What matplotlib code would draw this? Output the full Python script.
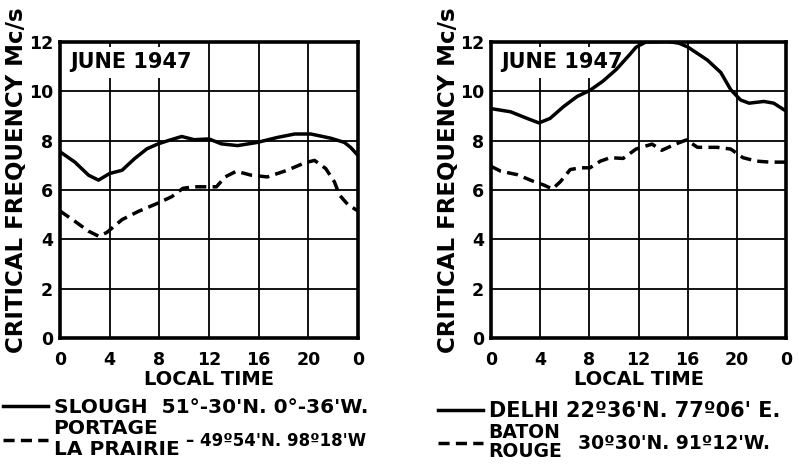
import matplotlib
matplotlib.use("Agg")
import matplotlib.pyplot as plt

# critical frequency readings, June 1947 (local time in hours, Mc/s)
slough_t = [0, 1.2, 2.3, 3.1, 4.0, 5.0, 6.0, 7.0, 7.9, 8.7, 9.8, 10.8, 12.0, 13.0,
            14.3, 15.9, 17.5, 18.9, 20.2, 21.8, 22.9, 23.4, 24]
slough_f = [7.55, 7.13, 6.6, 6.4, 6.67, 6.8, 7.27, 7.67, 7.87, 8.0, 8.17, 8.04, 8.07, 7.87,
            7.8, 7.93, 8.13, 8.27, 8.27, 8.1, 7.93, 7.73, 7.4]

portage_t = [0, 1.2, 2.3, 3.1, 3.75, 5.0, 6.3, 7.9, 9.0, 9.9, 10.8, 12.0, 12.6, 13.3,
             14.2, 15.4, 16.7, 18.3, 19.7, 20.5, 21.4, 22.1, 22.5, 23.2, 24]
portage_f = [5.15, 4.73, 4.33, 4.13, 4.27, 4.8, 5.13, 5.47, 5.73, 6.07, 6.13, 6.13, 6.13, 6.53,
             6.76, 6.6, 6.53, 6.8, 7.1, 7.2, 6.87, 6.33, 5.8, 5.4, 5.15]

delhi_t = [0, 1.6, 2.95, 3.9, 4.8, 5.9, 7.0, 8.05, 9.1, 10.2, 11.3, 11.8, 12.6, 14.4,
           15.3, 16.0, 17.6, 18.7, 19.5, 20.3, 21.0, 22.2, 23.0, 24]
delhi_f = [9.3, 9.17, 8.9, 8.72, 8.9, 9.38, 9.79, 10.04, 10.41, 10.89, 11.5, 11.79, 12.0, 12.02,
           11.95, 11.8, 11.27, 10.76, 10.07, 9.65, 9.52, 9.59, 9.52, 9.2]

baton_t = [0, 0.8, 2.15, 3.5, 4.3, 5.0, 5.65, 6.45, 7.25, 8.05, 8.9, 9.7, 10.75, 11.8,
           13.1, 13.9, 15.0, 15.9, 16.8, 18.4, 19.5, 20.5, 21.6, 22.7, 24]
baton_f = [6.96, 6.76, 6.62, 6.34, 6.2, 6.04, 6.34, 6.83, 6.9, 6.9, 7.17, 7.31, 7.28, 7.66,
           7.86, 7.61, 7.86, 8.03, 7.73, 7.73, 7.66, 7.31, 7.17, 7.13, 7.13]

hour_ticks = [0, 4, 8, 12, 16, 20, 24]
hour_labels = ["0", "4", "8", "12", "16", "20", "0"]
freq_ticks = [0, 2, 4, 6, 8, 10, 12]

plt.rcParams["font.family"] = "DejaVu Sans"
plt.rcParams["font.weight"] = "bold"
plt.rcParams["axes.labelweight"] = "bold"

W, H = 799, 465
fig = plt.figure(figsize=(W / 100, H / 100), dpi=100)

def panel(left, width, t1, f1, t2, f2, name1, name2, coords2, leg_x, leg_y,
          coord_xy, spacing, sizes):
    ax = fig.add_axes([left / W, 1 - 338 / H, width / W, 296 / H])
    ax.set_axisbelow(True)
    solid, = ax.plot(t1, f1, color="black", lw=2.5, solid_joinstyle="round", zorder=3)
    dashed, = ax.plot(t2, f2, color="black", lw=2.5, linestyle=(0, (3.2, 1.8)), zorder=3)
    ax.set_xlim(0, 24)
    ax.set_ylim(0, 12)
    ax.set_xticks(hour_ticks)
    ax.set_xticklabels(hour_labels)
    ax.set_yticks(freq_ticks)
    ax.grid(True, color="black", lw=1.3)
    ax.tick_params(length=0, labelsize=12.5)
    ax.tick_params(axis="x", pad=9)
    ax.tick_params(axis="y", pad=5)
    for s in ax.spines.values():
        s.set_linewidth(2.6)
    ax.text(0.035, 0.932, "JUNE 1947", transform=ax.transAxes, fontsize=15,
            va="center", ha="left", zorder=1.5,
            bbox=dict(facecolor="white", edgecolor="none", pad=4))
    ax.set_xlabel("LOCAL TIME", fontsize=14, labelpad=1)
    leg = ax.legend([solid, dashed], [name1, name2], loc="upper left",
                    bbox_to_anchor=(leg_x / W, 1 - leg_y / H), bbox_transform=fig.transFigure,
                    frameon=False, fontsize=14, handlelength=2.3, handletextpad=0.3,
                    labelspacing=0.1, borderpad=0, borderaxespad=0)
    for t, size in zip(leg.get_texts(), sizes[:2]):
        t.set_linespacing(spacing)
        t.set_fontsize(size)
    fig.text(coord_xy[0] / W, 1 - coord_xy[1] / H, coords2, fontsize=sizes[2],
             ha="left", va="center")
    return ax

ax1 = panel(60, 298, slough_t, slough_f, portage_t, portage_f,
            "SLOUGH  51°-30'N. 0°-36'W.", "PORTAGE\nLA PRAIRIE",
            "– 49º54'N. 98º18'W", 3, 398, (186, 441), 1.15, (14.5, 14.5, 12))
ax2 = panel(491, 295, delhi_t, delhi_f, baton_t, baton_f,
            "DELHI 22º36'N. 77º06' E.", "BATON\nROUGE",
            "30º30'N. 91º12'W.", 438, 401, (578, 443), 1.0, (15, 13.5, 13.5))

for x in (17, 448):
    fig.text(x / W, 1 - 180 / H, "CRITICAL FREQUENCY Mc/s", rotation=90,
             fontsize=16.5, ha="center", va="center")

fig.savefig("out.png", dpi=100)
